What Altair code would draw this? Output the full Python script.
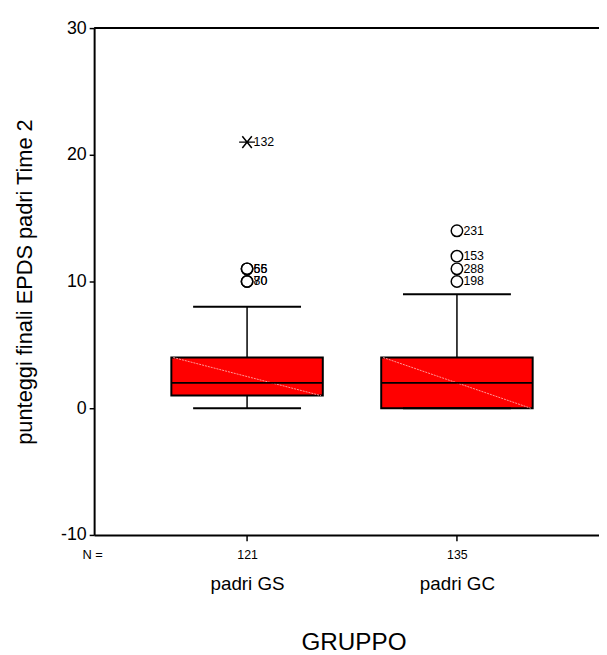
import altair as alt
import pandas as pd

# ---- data ----
groups = ["padri GS", "padri GC"]
group_pos = [1, 2]
n_counts = [121, 135]
q1 = [1, 0]
medians = [2, 2]
q3 = [4, 4]
whisker_lo = [0, 0]
whisker_hi = [8, 9]

out_group = ["padri GS", "padri GS", "padri GS", "padri GS",
             "padri GC", "padri GC", "padri GC", "padri GC"]
out_value = [11, 11, 10, 10, 14, 12, 11, 10]
out_case = ["55", "66", "70", "80", "231", "153", "288", "198"]

ext_group = ["padri GS"]
ext_value = [21]
ext_case = ["132"]

y_ticks = [-10, 0, 10, 20, 30]

# ---- tables ----
pos_map = dict(zip(groups, group_pos))
box_df = pd.DataFrame({"group": groups, "pos": group_pos, "n": n_counts,
                       "q1": q1, "median": medians, "q3": q3,
                       "lo": whisker_lo, "hi": whisker_hi})
out_df = pd.DataFrame({"group": out_group, "value": out_value, "case": out_case})
out_df["pos"] = out_df["group"].map(pos_map)
ext_df = pd.DataFrame({"group": ext_group, "value": ext_value, "case": ext_case})
ext_df["pos"] = ext_df["group"].map(pos_map)
top_df = pd.DataFrame({"top": [max(y_ticks)]})

FONT = "Liberation Sans"
BOX_HALF = 76.5
CAP_HALF = 54.5

xscale = alt.Scale(domain=[0.27123, 2.67689], nice=False, zero=False)
yscale = alt.Scale(domain=[min(y_ticks), max(y_ticks)], nice=False, zero=False)


def label_expr(keys, labels):
    expr = "''"
    for k, l in reversed(list(zip(keys, labels))):
        expr = f"datum.value == {k} ? '{l}' : ({expr})"
    return expr


count_axis = alt.Axis(
    orient="bottom",
    values=group_pos, labelExpr=label_expr(group_pos, n_counts),
    domain=True, domainColor="black", domainWidth=2,
    ticks=True, tickSize=6, tickWidth=1.5, tickColor="black",
    labelFont=FONT, labelFontSize=12.5, labelColor="black", labelPadding=8,
    labelFlush=False, grid=False,
    title="N =", titleFont=FONT, titleFontSize=13, titleFontWeight="normal",
    titleColor="black", titleAngle=0, titleAlign="center", titleBaseline="middle",
    titleX=-2, titleY=19.5,
)
group_axis = alt.Axis(
    orient="bottom",
    values=group_pos, labelExpr=label_expr(group_pos, groups),
    domain=False, ticks=False, tickSize=0,
    labelFont=FONT, labelFontSize=19, labelColor="black", labelPadding=40,
    labelFlush=False, grid=False,
    title="GRUPPO", titleFont=FONT, titleFontSize=24.5, titleFontWeight="normal",
    titleColor="black", titleAngle=0, titleAlign="center", titleBaseline="middle",
    titleX=262, titleY=108.5,
)
y_axis = alt.Axis(
    orient="left",
    values=y_ticks, labelExpr="'' + datum.value",
    domain=True, domainColor="black", domainWidth=2,
    ticks=True, tickSize=5, tickWidth=1.5, tickColor="black",
    labelFont=FONT, labelFontSize=18, labelColor="black", labelPadding=3,
    grid=False,
    title="punteggi finali EPDS padri Time 2", titleFont=FONT, titleFontSize=22,
    titleFontWeight="normal", titleColor="black", titleAngle=270,
    titleAlign="center", titleBaseline="middle", titleX=-70, titleY=256,
)

base = alt.Chart(box_df)

box = base.mark_rect(fill="#ff0000", stroke="black", strokeWidth=2,
                     xOffset=-BOX_HALF, x2Offset=BOX_HALF).encode(
    x=alt.X("pos:Q", scale=xscale, axis=count_axis),
    x2="pos:Q",
    y=alt.Y("q1:Q", scale=yscale, axis=y_axis),
    y2="q3:Q",
)

diag = base.mark_rule(color="#ff9a9a", strokeWidth=1, strokeDash=[2, 1],
                      xOffset=-BOX_HALF + 2, x2Offset=BOX_HALF - 2).encode(
    x=alt.X("pos:Q", scale=xscale, axis=None),
    x2="pos:Q",
    y=alt.Y("q3:Q", scale=yscale, axis=None),
    y2="q1:Q",
)

median = base.mark_rule(color="black", strokeWidth=2,
                        xOffset=-BOX_HALF, x2Offset=BOX_HALF).encode(
    x=alt.X("pos:Q", scale=xscale, axis=None),
    x2="pos:Q",
    y=alt.Y("median:Q", scale=yscale, axis=None),
)

whisk_up = base.mark_rule(color="black", strokeWidth=1.5).encode(
    x=alt.X("pos:Q", scale=xscale, axis=None),
    y=alt.Y("q3:Q", scale=yscale, axis=None),
    y2="hi:Q",
)
whisk_dn = base.mark_rule(color="black", strokeWidth=1.5).encode(
    x=alt.X("pos:Q", scale=xscale, axis=None),
    y=alt.Y("lo:Q", scale=yscale, axis=None),
    y2="q1:Q",
)
cap_hi = base.mark_rule(color="black", strokeWidth=2,
                        xOffset=-CAP_HALF, x2Offset=CAP_HALF).encode(
    x=alt.X("pos:Q", scale=xscale, axis=None),
    x2="pos:Q",
    y=alt.Y("hi:Q", scale=yscale, axis=None),
)
cap_lo = base.mark_rule(color="black", strokeWidth=2,
                        xOffset=-CAP_HALF, x2Offset=CAP_HALF).encode(
    x=alt.X("pos:Q", scale=xscale, axis=None),
    x2="pos:Q",
    y=alt.Y("lo:Q", scale=yscale, axis=None),
)

outliers = alt.Chart(out_df).mark_point(shape="circle", size=133, filled=False,
                                        stroke="black", strokeWidth=1.5,
                                        opacity=1).encode(
    x=alt.X("pos:Q", scale=xscale, axis=None),
    y=alt.Y("value:Q", scale=yscale, axis=None),
)
out_text = alt.Chart(out_df).mark_text(align="left", baseline="middle", dx=6.5,
                                       font=FONT, fontSize=12.5,
                                       color="black").encode(
    x=alt.X("pos:Q", scale=xscale, axis=None),
    y=alt.Y("value:Q", scale=yscale, axis=None),
    text="case:N",
)

extreme = alt.Chart(ext_df).mark_point(
    shape="M-1,0L1,0M-0.6,-0.75L0.6,0.75M-0.6,0.75L0.6,-0.75",
    size=256, filled=False, stroke="black", strokeWidth=1.5, opacity=1).encode(
    x=alt.X("pos:Q", scale=xscale, axis=None),
    y=alt.Y("value:Q", scale=yscale, axis=None),
)
ext_text = alt.Chart(ext_df).mark_text(align="left", baseline="middle", dx=6.5,
                                       font=FONT, fontSize=12.5,
                                       color="black").encode(
    x=alt.X("pos:Q", scale=xscale, axis=group_axis),
    y=alt.Y("value:Q", scale=yscale, axis=None),
    text="case:N",
)

top_line = alt.Chart(top_df).mark_rule(color="black", strokeWidth=2).encode(
    y=alt.Y("top:Q", scale=yscale, axis=None),
)

chart = alt.layer(
    box, diag, median, whisk_up, whisk_dn, cap_hi, cap_lo,
    outliers, out_text, extreme, ext_text, top_line,
).resolve_axis(x="independent", y="independent").properties(
    width=510, height=512,
    autosize=alt.AutoSizeParams(type="none"),
    padding={"left": 87, "top": 17, "right": 0, "bottom": 118},
    background="white",
).configure_view(stroke=None)

chart.save("out.html", embed_options={"renderer": "svg", "actions": False})
